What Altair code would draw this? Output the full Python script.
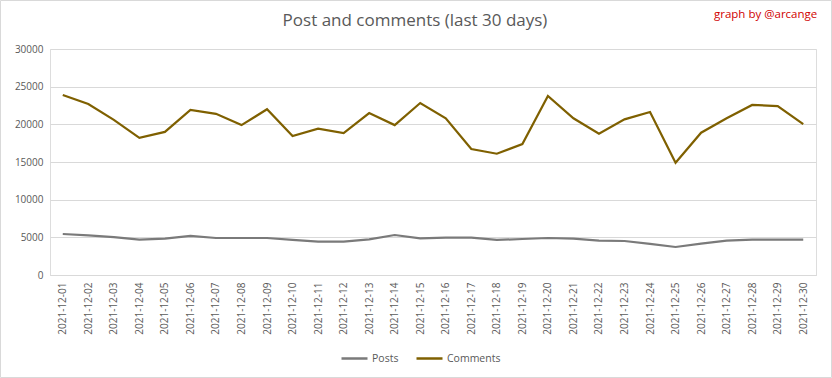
import altair as alt
import pandas as pd

dates = [f"2021-12-{d:02d}" for d in range(1, 31)]
posts = [5440, 5270, 5040, 4690, 4820, 5180, 4910, 4910, 4910, 4650,
         4430, 4430, 4740, 5310, 4870, 4950, 4950, 4650, 4780, 4910,
         4820, 4560, 4510, 4120, 3720, 4160, 4560, 4690, 4690, 4690]
comments = [23900, 22700, 20600, 18200, 19000, 21900, 21400, 19900, 22000, 18450,
            19420, 18850, 21500, 19900, 22830, 20800, 16720, 16100, 17390, 23760,
            20800, 18760, 20660, 21640, 14910, 18890, 20800, 22570, 22430, 20040]
series_names = ["Posts", "Comments"]
colors = ["#7A7A7A", "#7F6000"]

df = pd.DataFrame({
    "date": dates * 2,
    "value": posts + comments,
    "series": ["Posts"] * len(dates) + ["Comments"] * len(dates),
})

FONT = "Open Sans"
GREY = "#595959"

lines = alt.Chart(df).mark_line(strokeWidth=2.2).encode(
    x=alt.X("date:N", sort=dates, title=None,
            scale=alt.Scale(paddingOuter=0.5, paddingInner=0),
            axis=alt.Axis(labelAngle=-90, labelColor=GREY, labelFontSize=10,
                          labelFont=FONT, ticks=False, domainColor="#D9D9D9",
                          labelPadding=7, grid=False)),
    y=alt.Y("value:Q", title=None,
            scale=alt.Scale(domain=[0, 30000], nice=False),
            axis=alt.Axis(values=[0, 5000, 10000, 15000, 20000, 25000, 30000],
                          format="d",
                          labelColor=GREY, labelFontSize=10, labelFont=FONT,
                          ticks=False, domain=False, gridColor="#D9D9D9",
                          labelPadding=7)),
    color=alt.Color("series:N", sort=series_names,
                    scale=alt.Scale(domain=series_names, range=colors),
                    legend=alt.Legend(title=None, orient="none", direction="horizontal",
                                      legendX=290, legendY=295, symbolType="stroke",
                                      symbolStrokeWidth=2.5, symbolSize=676,
                                      labelOffset=3,
                                      labelColor=GREY, labelFontSize=10.5, labelFont=FONT,
                                      columnPadding=12)),
    detail="series:N",
)

title = alt.Chart(pd.DataFrame({"t": ["Post and comments (last 30 days)"]})).mark_text(
    align="center", baseline="middle", color=GREY, fontSize=17, font=FONT
).encode(text="t:N", x=alt.value(365), y=alt.value(-28))

credit = alt.Chart(pd.DataFrame({"t": ["graph by @arcange"]})).mark_text(
    align="left", baseline="middle", color="#D00000", fontSize=11.5, font=FONT
).encode(text="t:N", x=alt.value(664), y=alt.value(-34.5))

border = alt.Chart(pd.DataFrame({"a": [0]})).mark_rect(
    fill=None, stroke="#D9D9D9", strokeWidth=1
).encode(x=alt.value(-49.5), x2=alt.value(781.5), y=alt.value(-48.5), y2=alt.value(328.5))

chart = alt.layer(border, lines, title, credit).properties(
    width=766, height=226,
    padding={"left": 50, "top": 49, "right": 16, "bottom": 103},
    autosize=alt.AutoSizeParams(type="none"),
).configure_view(stroke=None).configure(background="white")

chart.save("out.html", embed_options={"renderer": "svg", "actions": False})
